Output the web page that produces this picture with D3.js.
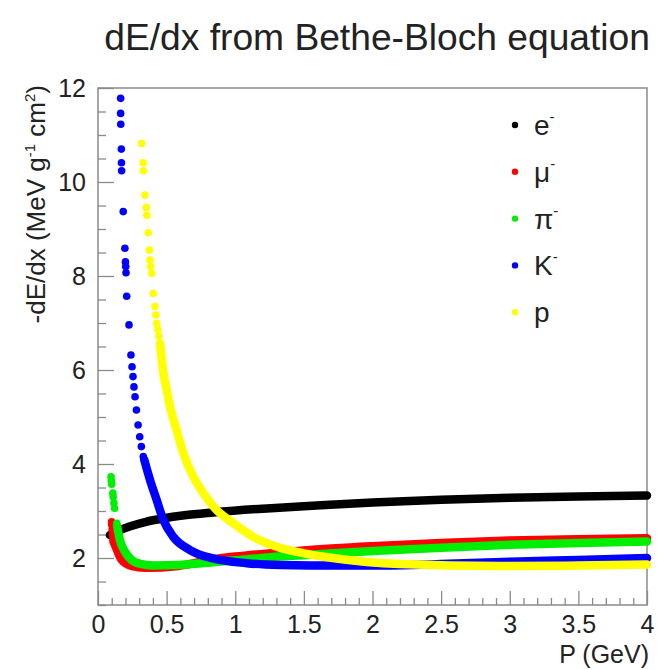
<!DOCTYPE html>
<html>
<head>
<meta charset="utf-8">
<title>dE/dx from Bethe-Bloch equation</title>
<script src="https://d3js.org/d3.v7.min.js"></script>
<style>
  body { margin: 0; background: #fff; }
  text { font-family: "Liberation Sans", Arial, Helvetica, sans-serif; fill: #222; }
</style>
</head>
<body>
<div id="chart"></div>
<script>
// values: [P (GeV), -dE/dx (MeV g^-1 cm^2)]
var eBand = [[0.087,2.49],[0.15,2.58],[0.23,2.67],[0.35,2.77],[0.47,2.84],[0.63,2.91],[0.84,2.97],[1.2,3.05],[1.5,3.1],[2.0,3.18],[2.5,3.24],[3.0,3.28],[3.5,3.31],[4.0,3.33]];

var muDots = [[0.099,2.77],[0.100,2.71],[0.103,2.60],[0.107,2.49],[0.110,2.42]];
var muBand = [[0.112,2.36],[0.136,2.19],[0.172,1.96],[0.245,1.83],[0.342,1.79],[0.585,1.83],[0.84,1.97],[1.0,2.03],[1.33,2.12],[1.5,2.16],[2.0,2.25],[2.5,2.32],[3.0,2.37],[3.5,2.40],[4.0,2.42]];

var piDots = [[0.095,3.73],[0.097,3.65],[0.100,3.57],[0.108,3.38],[0.111,3.30],[0.116,3.17],[0.121,3.06],[0.137,2.74]];
var piBand = [[0.140,2.67],[0.16,2.38],[0.197,2.13],[0.245,1.96],[0.318,1.87],[0.415,1.84],[0.585,1.85],[0.8,1.9],[1.0,1.95],[1.33,2.03],[1.5,2.06],[2.0,2.15],[2.5,2.22],[3.0,2.28],[3.5,2.32],[4.0,2.35]];

var kDots = [[0.165,11.78],[0.165,11.46],[0.166,11.23],[0.170,10.70],[0.171,10.41],[0.172,10.24],[0.184,9.37],[0.196,8.59],[0.200,8.30],[0.202,8.20],[0.204,8.07],[0.209,7.57],[0.226,6.96],[0.240,6.32],[0.248,6.07],[0.255,5.86],[0.262,5.64],[0.270,5.43],[0.280,5.15],[0.292,4.83],[0.304,4.58],[0.316,4.37],[0.330,4.16]];
var kBand = [[0.337,4.09],[0.379,3.66],[0.428,3.23],[0.476,2.81],[0.549,2.45],[0.67,2.17],[0.84,1.99],[1.083,1.89],[1.326,1.85],[1.545,1.84],[2.0,1.84],[2.5,1.87],[3.0,1.92],[3.5,1.96],[4.0,2.0]];

var pDots = [[0.318,10.82],[0.329,10.41],[0.331,10.24],[0.342,9.72],[0.352,9.46],[0.356,9.29],[0.366,8.92],[0.374,8.55],[0.379,8.34],[0.384,8.20],[0.391,8.06],[0.403,7.63],[0.415,7.35],[0.422,7.17],[0.428,6.99],[0.436,6.86],[0.444,6.72]];
var pBand = [[0.452,6.57],[0.477,5.93],[0.501,5.57],[0.525,5.22],[0.573,4.72],[0.622,4.23],[0.694,3.73],[0.767,3.38],[0.865,3.02],[0.986,2.74],[1.131,2.45],[1.302,2.24],[1.5,2.1],[1.71,2.0],[2.2,1.87],[2.93,1.83],[3.5,1.84],[4.0,1.86]];

var names = ["e", "\u03bc", "\u03c0", "K", "p"];
var charges = ["-", "-", "-", "-", ""];
var colors = ["#000000", "#ff0000", "#00ee00", "#0000ff", "#ffff00"];
var bands = [eBand, muBand, piBand, kBand, pBand];
var dots = [[], muDots, piDots, kDots, pDots];

var xMajor = [0, 0.5, 1, 1.5, 2, 2.5, 3, 3.5, 4];
var yMajor = [2, 4, 6, 8, 10, 12];

var width = 657, height = 670;
var margin = {top: 88, right: 10, bottom: 65, left: 98};
var w = width - margin.left - margin.right,
    h = height - margin.top - margin.bottom;

var svg = d3.select("#chart").append("svg")
    .attr("width", width)
    .attr("height", height);

var x = d3.scaleLinear().domain([0, 4]).range([0, w]);
var y = d3.scaleLinear().domain([1, 12]).range([h, 0]);

var g = svg.append("g")
    .attr("transform", "translate(" + margin.left + "," + margin.top + ")");

// minor ticks
var xMinor = d3.range(0, 41).map(function (i) { return i / 10; }).filter(function (d) { return xMajor.indexOf(d) < 0; });
var yMinor = d3.range(2, 24).map(function (i) { return i / 2; }).filter(function (d) { return yMajor.indexOf(d) < 0; });

g.append("g").attr("class", "axis")
    .attr("transform", "translate(0," + h + ")")
    .call(d3.axisBottom(x).tickValues(xMinor).tickSize(-7).tickFormat(""));
g.append("g").attr("class", "axis")
    .attr("transform", "translate(0," + h + ")")
    .call(d3.axisBottom(x).tickValues(xMajor).tickSize(-14).tickPadding(10).tickFormat(d3.format("")));

g.append("g").attr("class", "axis")
    .call(d3.axisLeft(y).tickValues(yMinor).tickSize(-8).tickFormat(""));
g.append("g").attr("class", "axis")
    .call(d3.axisLeft(y).tickValues(yMajor).tickSize(-16).tickPadding(12).tickFormat(d3.format("")));

g.selectAll(".axis .domain").remove();
g.selectAll(".axis line").attr("stroke", "#8a8a8a").attr("stroke-width", 1.3);
g.selectAll(".axis text").attr("font-size", 25).attr("fill", "#222")
    .style("font-family", "'Liberation Sans', Arial, Helvetica, sans-serif");

// frame
g.append("rect")
    .attr("width", w).attr("height", h)
    .attr("fill", "none").attr("stroke", "#8a8a8a").attr("stroke-width", 1.5);

// curves
var line = d3.line()
    .x(function (d) { return x(d[0]); })
    .y(function (d) { return y(d[1]); })
    .curve(d3.curveMonotoneX);

bands.forEach(function (b, i) {
    var s = g.append("g").attr("class", "series");
    s.append("path")
        .datum(b)
        .attr("d", line)
        .attr("fill", "none")
        .attr("stroke", colors[i])
        .attr("stroke-width", 8.5)
        .attr("stroke-linecap", "round");
    s.selectAll("circle")
        .data(dots[i])
        .enter().append("circle")
        .attr("cx", function (d) { return x(d[0]); })
        .attr("cy", function (d) { return y(d[1]); })
        .attr("r", 3.8)
        .attr("fill", colors[i]);
});

// legend
var leg = svg.append("g").attr("transform", "translate(515,125)");
var item = leg.selectAll("g").data(names).enter().append("g")
    .attr("transform", function (d, i) { return "translate(0," + (i * 46.8) + ")"; });
item.append("circle").attr("r", 3.2).attr("fill", function (d, i) { return colors[i]; });
var lt = item.append("text").attr("x", 19).attr("y", 10).attr("font-size", 28);
lt.append("tspan").text(function (d) { return d; });
lt.append("tspan").attr("dy", -13).attr("font-size", 15).text(function (d, i) { return charges[i]; });

// title
svg.append("text")
    .attr("x", 650).attr("y", 50)
    .attr("text-anchor", "end")
    .attr("font-size", 37.2)
    .text("dE/dx from Bethe-Bloch equation");

// axis titles
svg.append("text")
    .attr("x", 649).attr("y", 663)
    .attr("text-anchor", "end")
    .attr("font-size", 25)
    .text("P (GeV)");

var yl = svg.append("text")
    .attr("transform", "translate(45," + (margin.top - 3) + ") rotate(-90)")
    .attr("text-anchor", "end")
    .attr("font-size", 26);
yl.append("tspan").text("-dE/dx (MeV g");
yl.append("tspan").attr("dy", -10).attr("font-size", 15).text("-1");
yl.append("tspan").attr("dy", 10).text(" cm");
yl.append("tspan").attr("dy", -10).attr("font-size", 15).text("2");
yl.append("tspan").attr("dy", 10).text(")");
</script>
</body>
</html>
